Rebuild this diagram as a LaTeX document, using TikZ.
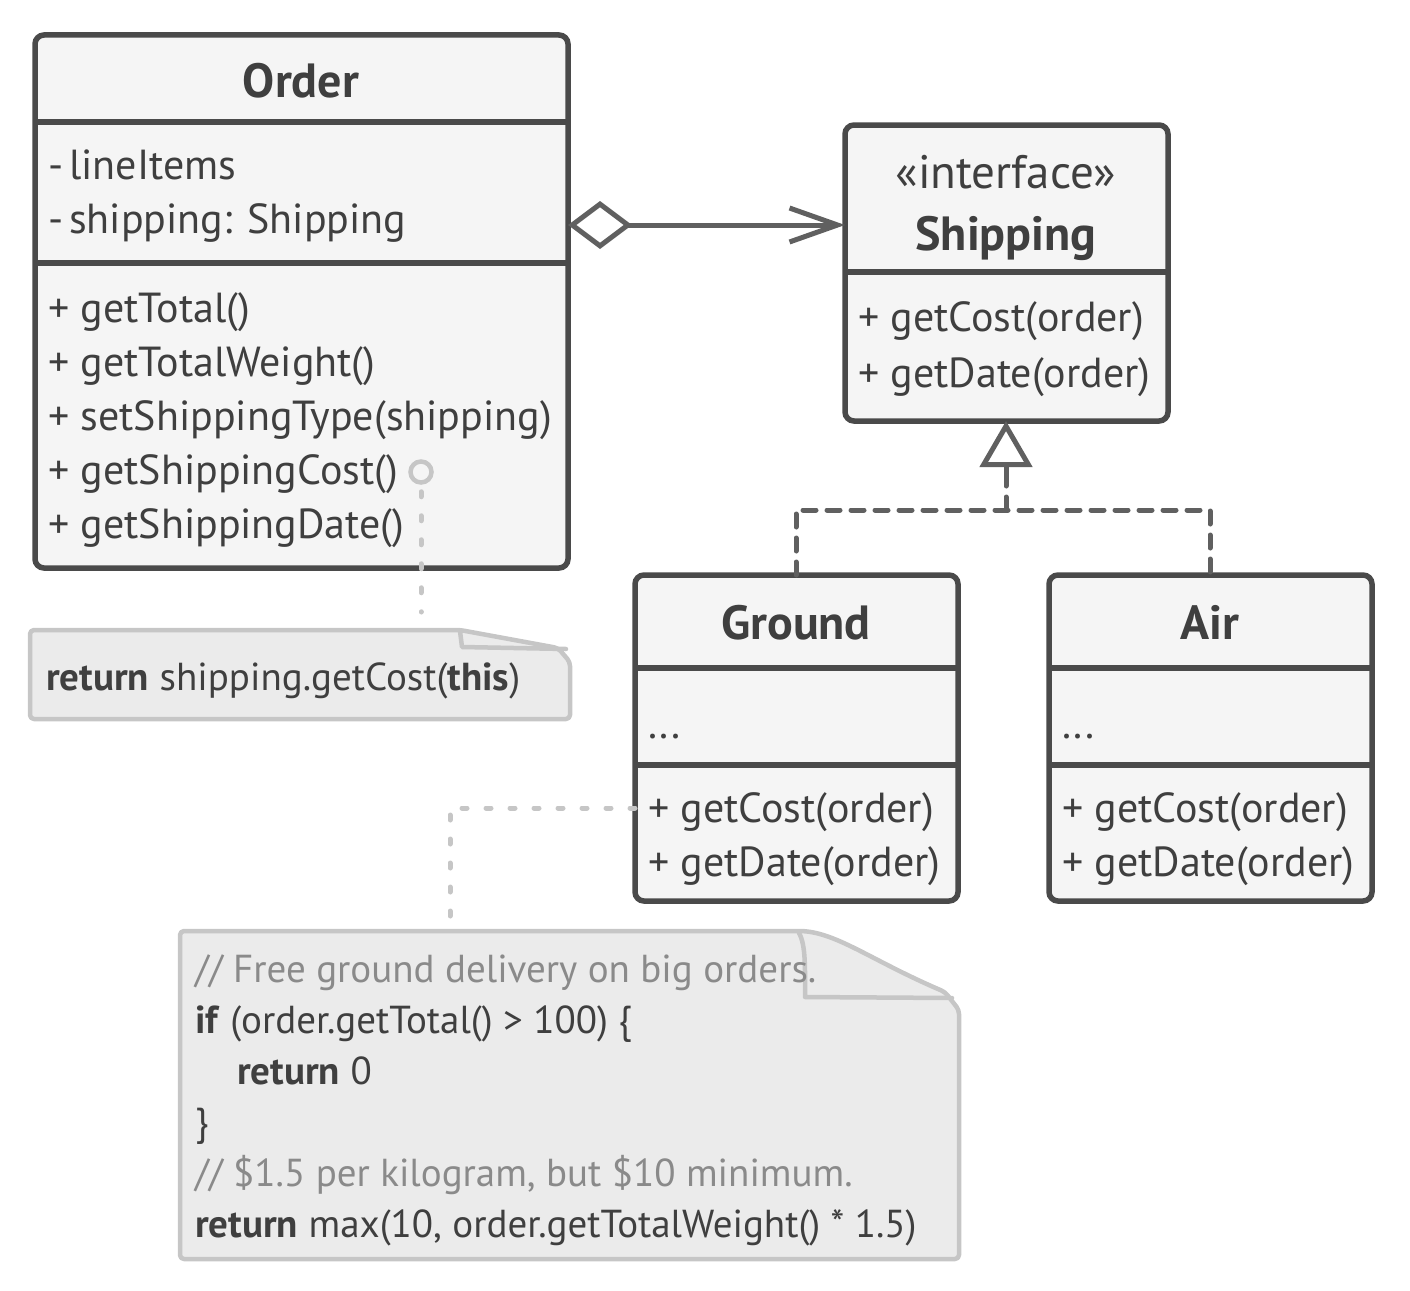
\documentclass[tikz,border=0pt]{standalone}
\usepackage{fontspec}
\setmainfont{PT Sans}
\usetikzlibrary{arrows.meta}
\definecolor{bord}{HTML}{4A4A4A}
\definecolor{boxfill}{HTML}{F5F5F5}
\definecolor{txt}{HTML}{3F3F3F}
\definecolor{conn}{HTML}{606060}
\definecolor{notefill}{HTML}{EBEBEB}
\definecolor{noteline}{HTML}{C6C6C6}
\definecolor{cmt}{HTML}{8A8A8A}
\begin{document}
\begin{tikzpicture}[x=1pt,y=-1pt,
  classbox/.style={draw=bord, fill=boxfill, line width=5.5pt, rounded corners=9pt, inner sep=0pt, outer sep=0pt, anchor=north west},
  divider/.style={draw=bord, line width=5.5pt},
  member/.style={anchor=west, inner sep=0pt, text=txt, font=\fontsize{42}{48}\selectfont, text height=31pt, text depth=2pt},
  title/.style={anchor=center, inner sep=0pt, text=txt, font=\fontsize{48}{54}\selectfont\bfseries, text height=36pt, text depth=2pt},
  stereo/.style={anchor=center, inner sep=0pt, text=txt, font=\fontsize{47}{52}\selectfont, text height=34pt, text depth=2pt},
  notetext/.style={anchor=west, inner sep=0pt, text=txt, font=\fontsize{39}{44}\selectfont, text height=30pt, text depth=2pt},
  notebox/.style={draw=noteline, fill=notefill, line width=4.5pt, line join=round, rounded corners=4pt},
  noteflap/.style={draw=noteline, line width=4.5pt, line join=round, line cap=round},
  assoc/.style={draw=conn, line width=5pt},
  realize/.style={draw=conn, line width=5pt, line cap=round, dash pattern=on 13pt off 11pt},
  notelink/.style={draw=noteline, line width=5pt, line cap=round, dash pattern=on 5pt off 19pt},
]
\path[use as bounding box] (0,0) rectangle (1410,1290);

% ---------- Order ----------
\node[classbox, minimum width=533pt, minimum height=533pt] (ord) at (35,35) {};
\draw[divider] (35,122) -- (568,122);
\draw[divider] (35,263) -- (568,263);
\node[title] (ordT) at (301,80) {Order};
\node[member] (ordA1) at (48,165) {-\hspace{6pt}lineItems};
\node[member] (ordA2) at (48,219) {-\hspace{6pt}shipping: Shipping};
\node[member] (ordM1) at (48,308) {+ getTotal()};
\node[member] (ordM2) at (48,362) {+ getTotalWeight()};
\node[member] (ordM3) at (48,416) {+ setShippingType(shipping)};
\node[member] (ordM4) at (48,470) {+ getShippingCost()};
\node[member] (ordM5) at (48,524) {+ getShippingDate()};

% ---------- Shipping ----------
\node[classbox, minimum width=323pt, minimum height=296pt] (ship) at (845,125) {};
\draw[divider] (845,272) -- (1168,272);
\node[stereo] (shipS) at (1006,172) {«interface»};
\node[title] (shipT) at (1006,233) {Shipping};
\node[member] (shipM1) at (858,317) {+ getCost(order)};
\node[member] (shipM2) at (858,373) {+ getDate(order)};

% ---------- Ground ----------
\node[classbox, minimum width=323pt, minimum height=326pt] (gnd) at (635,575) {};
\draw[divider] (635,668) -- (958,668);
\draw[divider] (635,765) -- (958,765);
\node[title] (gndT) at (796,622) {Ground};
\node[member] (gndA) at (648,724) {...};
\node[member] (gndM1) at (648,808) {+ getCost(order)};
\node[member] (gndM2) at (648,862) {+ getDate(order)};

% ---------- Air ----------
\node[classbox, minimum width=323pt, minimum height=326pt] (air) at (1049,575) {};
\draw[divider] (1049,668) -- (1372,668);
\draw[divider] (1049,765) -- (1372,765);
\node[title] (airT) at (1210,622) {Air};
\node[member] (airA) at (1062,724) {...};
\node[member] (airM1) at (1062,808) {+ getCost(order)};
\node[member] (airM2) at (1062,862) {+ getDate(order)};

% ---------- aggregation ----------
\draw[assoc, {Diamond[open, length=64pt, width=48pt, line width=5pt]}-{Straight Barb[length=48pt, width=34pt, line width=5pt]}]
  (ord.east |- 0,225) -- (ship.west |- 0,225);

% ---------- realization ----------
\coordinate (tri) at (1006,475);
\coordinate (junc) at (1006,510);
\draw[realize] (gnd.north -| 796,0) -- (796,510) -- (1210,510) -- (air.north -| 1210,0);
\draw[realize] (junc) -- (tri);
\draw[assoc, -{Triangle[open, length=46pt, width=52pt, line width=5pt]}] (tri) -- (ship.south -| tri);

% ---------- note 1 ----------
\draw[notebox] (30,630) -- (460,630) -- (558,648) -- (570,662) -- (570,719) -- (30,719) -- cycle;
\draw[noteflap] (460,631) -- (462,647) -- (566,649);
\node[notetext] (note1) at (46,676) {\textbf{return} shipping.getCost(\textbf{this})};
\node[draw=noteline, line width=4.5pt, fill=boxfill, circle, inner sep=0pt, minimum size=21pt] (dot) at (421,472) {};
\draw[notelink] (dot.south) ++(0,7) -- (421,612);

% ---------- note 2 ----------
\draw[notebox] (180,931) -- (795,931) .. controls (835,931) and (870,960) .. (945,992) -- (959,1010) -- (959,1259) -- (180,1259) -- cycle;
\draw[noteflap] (799,933) .. controls (806,945) and (805,970) .. (805,997) -- (952,998);
\node[notetext, text=cmt] (n2l1) at (195,968) {// Free ground delivery on big orders.};
\node[notetext] (n2l2) at (195,1019) {\textbf{if} (order.getTotal() > 100) \{};
\node[notetext] (n2l3) at (237,1070) {\textbf{return} 0};
\node[notetext] (n2l4) at (195,1121) {\}};
\node[notetext, text=cmt] (n2l5) at (195,1172) {// \$1.5 per kilogram, but \$10 minimum.};
\node[notetext] (n2l6) at (195,1223) {\textbf{return} max(10, order.getTotalWeight() * 1.5)};
\coordinate (bend) at (450,808);
\draw[notelink] (gnd.west |- gndM1) -- (bend) -- (450,918);
\end{tikzpicture}
\end{document}
